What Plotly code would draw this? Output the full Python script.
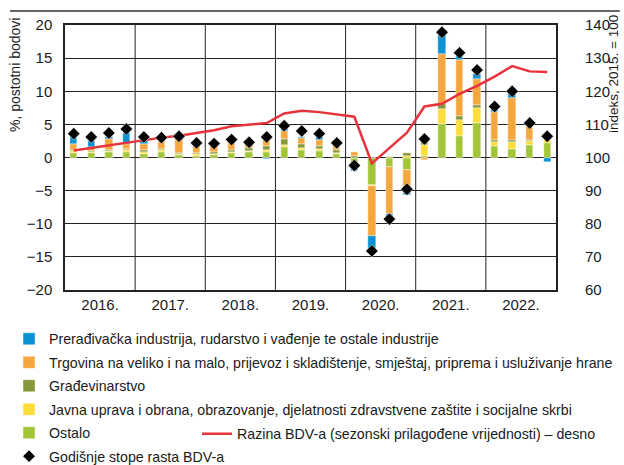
import plotly.graph_objects as go

years = ["2016.", "2017.", "2018.", "2019.", "2020.", "2021.", "2022."]
quarters = list(range(28))

ostalo = [0.7, 0.7, 0.8, 0.9,
          0.6, 0.9, 0.4, 0.3,
          0.4, 0.7, 0.8, 0.8,
          1.6, 1.2, 1.0, 0.6,
          -0.8, -4.2, -1.5, -1.9,
          0.3, 5.0, 3.3, 5.2,
          1.7, 1.3, 1.9, 2.2]
javna = [0.3, 0.2, 0.2, 0.2,
         0.3, 0.2, 0.2, 0.2,
         0.2, 0.2, 0.2, 0.3,
         0.3, 0.2, 0.3, 0.1,
         0.0, -0.1, 0.0, 0.2,
         1.6, 2.3, 2.3, 2.2,
         0.7, 1.0, 0.65, 0.6]
gradj = [0.1, 0.1, 0.1, 0.2,
         0.2, 0.2, 0.1, 0.2,
         0.3, 0.3, 0.4, 0.6,
         0.9, 0.6, 0.4, 0.4,
         0.3, 0.0, 0.15, 0.5,
         0.6, 0.75, 0.65, 0.5,
         0.3, 0.3, 0.1, 0.1]
trgovina = [1.0, 0.6, 1.7, 0.8,
            1.0, 1.2, 2.3, 1.0,
            1.0, 1.3, 0.8, 1.3,
            1.2, 1.0, 0.9, 0.9,
            0.6, -7.6, -7.1, -3.4,
            -0.35, 7.6, 8.4, 4.0,
            4.2, 6.4, 2.3, 0.8]
preradj = [1.1, 0.9, 0.3, 1.6,
           0.4, 0.0, 0.0, 0.0,
           0.0, 0.0, 0.0, -0.3,
           0.5, 0.1, 0.5, 0.0,
           -1.2, -2.3, -0.5, -0.3,
           0.0, 2.9, 0.65, 0.65,
           0.4, 0.65, 0.2, -0.7]
bdv_rast = [3.6, 3.1, 3.7, 4.3,
            3.1, 3.0, 3.2, 2.2,
            2.1, 2.7, 2.3, 3.1,
            4.8, 4.0, 3.6, 2.2,
            -1.2, -14.1, -9.3, -4.8,
            2.8, 18.9, 15.8, 13.2,
            7.7, 10.0, 5.2, 3.2]
bdv_razina = [102.1, 102.9, 103.8, 104.6,
              105.4, 106.0, 106.6, 107.3,
              108.2, 109.4, 110.0, 110.4,
              113.3, 114.1, 113.7, 113.0,
              112.3, 98.2, 102.8, 107.5,
              115.4, 116.2, 119.2, 121.6,
              124.4, 127.6, 126.0, 125.8]

FONT = "Liberation Sans, Arial, sans-serif"
BW = 0.42

fig = go.Figure()
bar_series = [
    ("Ostalo", ostalo, "#a3c639", 5),
    ("Javna uprava i obrana, obrazovanje, djelatnosti zdravstvene zaštite i socijalne skrbi", javna, "#fedd3a", 4),
    ("Građevinarstvo", gradj, "#86983d", 3),
    ("Trgovina na veliko i na malo, prijevoz i skladištenje, smještaj, priprema i usluživanje hrane", trgovina, "#f5a73f", 2),
    ("Prerađivačka industrija, rudarstvo i vađenje te ostale industrije", preradj, "#0a93d4", 1),
]
for name, vals, col, rank in bar_series:
    fig.add_trace(go.Bar(x=quarters, y=vals, name=name, width=BW,
                         marker=dict(color=col, line=dict(color="white", width=0.4)),
                         legendrank=rank, legendgroup="g%d" % rank, legend="legend",
                         yaxis="y"))

fig.add_trace(go.Scatter(x=quarters, y=bdv_razina, mode="lines",
                         name="Razina BDV-a (sezonski prilagođene vrijednosti) – desno",
                         line=dict(color="#e8333d", width=2.5),
                         yaxis="y2", legend="legend2"))
fig.add_trace(go.Scatter(x=quarters, y=bdv_rast, mode="markers",
                         name="Godišnje stope rasta BDV-a",
                         marker=dict(symbol="diamond", size=9.5, color="black",
                                     line=dict(color="white", width=0.5)),
                         yaxis="y3", legendrank=6, legendgroup="g6", legend="legend"))

shapes = []
for k in range(1, len(years)):
    xb = 4 * k - 0.5
    shapes.append(dict(type="line", xref="x", yref="paper", x0=xb, x1=xb, y0=0, y1=1,
                       line=dict(color="#222", width=1), layer="below"))
shapes.append(dict(type="line", xref="paper", yref="paper", x0=-0.112, x1=1.130,
                   y0=1.053, y1=1.053, line=dict(color="#333", width=1.5)))

fig.update_layout(
    width=624, height=465,
    margin=dict(l=65, r=68, t=25, b=175, autoexpand=False),
    paper_bgcolor="white", plot_bgcolor="white",
    barmode="relative", bargap=0,
    font=dict(family=FONT, size=14, color="#1a1a1a"),
    showlegend=True,
    xaxis=dict(range=[-0.5, 27.5], tickvals=[4 * i + 1.5 for i in range(len(years))],
               ticktext=years, showgrid=False, zeroline=False, ticks="",
               showline=True, linecolor="#222", linewidth=1.5, mirror=True,
               ticklabelstandoff=0, tickfont=dict(size=15)),
    yaxis=dict(range=[-20, 20], dtick=5, showgrid=True, gridcolor="#222", gridwidth=1,
               zeroline=True, zerolinecolor="#222", zerolinewidth=1,
               showline=True, linecolor="#222", linewidth=1.5, mirror=True,
               ticks="", ticklabelstandoff=8, tickfont=dict(size=15)),
    yaxis2=dict(range=[60, 140], dtick=10, overlaying="y", side="right",
                showgrid=False, zeroline=False, ticks="", ticklabelstandoff=28,
                tickfont=dict(size=15)),
    yaxis3=dict(range=[-20, 20], overlaying="y", visible=False),
    shapes=shapes,
    legend=dict(x=-0.114, y=-0.125, xanchor="left", yanchor="top",
                orientation="v", traceorder="grouped", tracegroupgap=2,
                font=dict(size=14.2), bgcolor="rgba(0,0,0,0)"),
    legend2=dict(x=(197 - 65) / 491, y=(290 - 418) / 265, xanchor="left", yanchor="top",
                 font=dict(size=14.2), bgcolor="rgba(0,0,0,0)"),
    annotations=[
        dict(text="%, postotni bodovi", xref="paper", yref="paper",
             x=(15 - 65) / 491, y=(290 - 75) / 265, textangle=-90, showarrow=False,
             xanchor="center", yanchor="middle", font=dict(size=14)),
        dict(text="indeks, 2015. = 100", xref="paper", yref="paper",
             x=(614 - 65) / 491, y=(290 - 74) / 265, textangle=-90, showarrow=False,
             xanchor="center", yanchor="middle", font=dict(size=13.5)),
    ],
)

fig.write_html("out.html", config={"displayModeBar": False},
               post_script="document.body.style.margin='0';document.body.style.overflow='hidden';")
